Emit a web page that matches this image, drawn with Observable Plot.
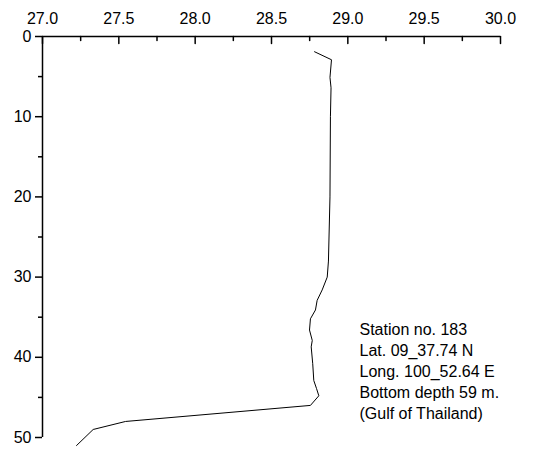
<!DOCTYPE html>
<html>
<head>
<meta charset="utf-8">
<script src="https://cdn.jsdelivr.net/npm/d3@7"></script>
<script src="https://cdn.jsdelivr.net/npm/@observablehq/plot@0.6"></script>
<style>
  html, body { margin: 0; padding: 0; background: #fff; }
  svg { display: block; }
</style>
</head>
<body>
<div id="chart"></div>
<script>
// Temperature (°C) profile vs depth (m)
const depth = [1.9, 2.9, 5.1, 6.4, 10, 20, 28, 30.0, 31.6, 32.9, 34.1, 35.2, 36.6, 37.9, 38.7, 40.8, 42.9, 43.9, 44.8, 46.0, 48.0, 49.0, 51.0];
const temperature = [28.782, 28.893, 28.883, 28.890, 28.886, 28.883, 28.873, 28.865, 28.832, 28.799, 28.788, 28.755, 28.749, 28.767, 28.760, 28.770, 28.777, 28.795, 28.810, 28.755, 27.544, 27.332, 27.223];

const xMajorTicks = [27.0, 27.5, 28.0, 28.5, 29.0, 29.5, 30.0];
const xMinorTicks = [27.25, 27.75, 28.25, 28.75, 29.25, 29.75];
const yMajorTicks = [0, 10, 20, 30, 40, 50];
const yMinorTicks = [5, 15, 25, 35, 45];

const annotationLines = [
  "Station no. 183",
  "Lat. 09_37.74 N",
  "Long. 100_52.64 E",
  "Bottom depth 59 m.",
  "(Gulf of Thailand)"
];

const profile = depth.map((d, i) => ({depth: d, temp: temperature[i]}));

const downTick = {draw(ctx, l) { ctx.moveTo(0, 0); ctx.lineTo(0, l); }};

const chart = Plot.plot({
  width: 555,
  height: 449,
  marginLeft: 42,
  marginRight: 55,
  marginTop: 36,
  marginBottom: 12,
  style: {fontFamily: "'Liberation Sans', Arial, sans-serif", fontSize: "16px", color: "#000", background: "#fff"},
  x: {domain: [27, 30]},
  y: {domain: [0, 50], reverse: true},
  marks: [
    // x axis (top): labels
    Plot.axisX(xMajorTicks, {anchor: "top", tickSize: 0, tickPadding: 13, tickFormat: d3.format(".1f"), fontSize: 16, fill: "#000", label: null}),
    // x ticks pointing inward (down)
    Plot.vector(xMajorTicks, {x: d => d, frameAnchor: "top", length: 7, anchor: "start", shape: downTick, stroke: "#000", strokeWidth: 1.5}),
    Plot.vector(xMinorTicks, {x: d => d, frameAnchor: "top", length: 4, anchor: "start", shape: downTick, stroke: "#000", strokeWidth: 1.5}),
    // y axis (left): outward ticks
    Plot.axisY(yMajorTicks, {anchor: "left", tickSize: 7, tickPadding: 4, strokeWidth: 1.5, fontSize: 16, fill: "#000", stroke: "#000", label: null}),
    Plot.axisY(yMinorTicks, {anchor: "left", tickSize: 4, tickFormat: () => "", strokeWidth: 1.5, stroke: "#000", label: null}),
    // axis lines
    Plot.ruleY([0], {stroke: "#000", strokeWidth: 1.5}),
    Plot.ruleX([27], {stroke: "#000", strokeWidth: 1.5}),
    // profile
    Plot.line(profile, {x: "temp", y: "depth", stroke: "#000", strokeWidth: 1}),
    // annotation
    Plot.text([annotationLines.join("\n")], {
      frameAnchor: "bottom-left", dx: 317, dy: -19,
      textAnchor: "start", lineAnchor: "bottom", lineHeight: 1.3,
      fontSize: 16, fill: "#000"
    })
  ]
});
document.getElementById("chart").appendChild(chart);
</script>
</body>
</html>
